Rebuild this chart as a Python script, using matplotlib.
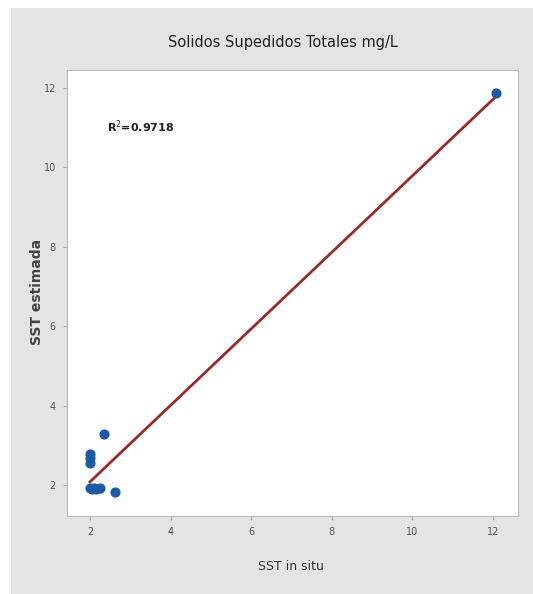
import matplotlib
matplotlib.use("Agg")
import matplotlib.pyplot as plt
from matplotlib.patches import Rectangle

# data
sst_in_situ = [2.0, 2.05, 2.1, 2.15, 2.25, 2.0, 2.0, 2.0, 2.35, 2.62, 12.07]
sst_estimada = [1.92, 1.9, 1.92, 1.9, 1.92, 2.55, 2.68, 2.78, 3.28, 1.82, 11.88]
fit_x = [2.0, 12.07]
fit_y = [2.08, 11.78]
r2_text = "R$^2$=0.9718"
x_ticks = [2, 4, 6, 8, 10, 12]
y_ticks = [2, 4, 6, 8, 10, 12]

fig = plt.figure(figsize=(5.33, 5.94), dpi=100, facecolor="white")
fig.patches.append(Rectangle((11 / 533, 0), 1, 1 - 8 / 594, transform=fig.transFigure,
                             facecolor="#e4e4e4", edgecolor="none", zorder=-1))

ax = fig.add_axes([67 / 533, 1 - 516 / 594, (518 - 67) / 533, (516 - 70) / 594])
ax.set_facecolor("white")

ax.plot(fit_x, fit_y, color="#9a2a2a", lw=2, zorder=2)
ax.scatter(sst_in_situ, sst_estimada, s=40, color="#1d5aa6", zorder=3)

ax.set_xlim(1.43, 12.62)
ax.set_ylim(1.22, 12.45)
ax.set_xticks(x_ticks)
ax.set_yticks(y_ticks)
ax.tick_params(length=3, color="#aaaaaa", labelsize=7, labelcolor="#555555", pad=5)
for s in ax.spines.values():
    s.set_color("#bbbbbb")

ax.text(2.42, 11.02, r2_text, fontsize=8, fontweight="bold", va="center", color="#222222")

fig.text(0.53, 1 - 42 / 594, "Solidos Supedidos Totales mg/L", ha="center", va="center",
         fontsize=10.5, color="#222222")
fig.text(0.546, 1 - 567 / 594, "SST in situ", ha="center", va="center",
         fontsize=9, color="#333333")
fig.text(37 / 533, 1 - 292 / 594, "SST estimada", ha="center", va="center", rotation=90,
         fontsize=10, fontweight="bold", color="#444444")

fig.savefig("out.png", dpi=100, facecolor=fig.get_facecolor())
